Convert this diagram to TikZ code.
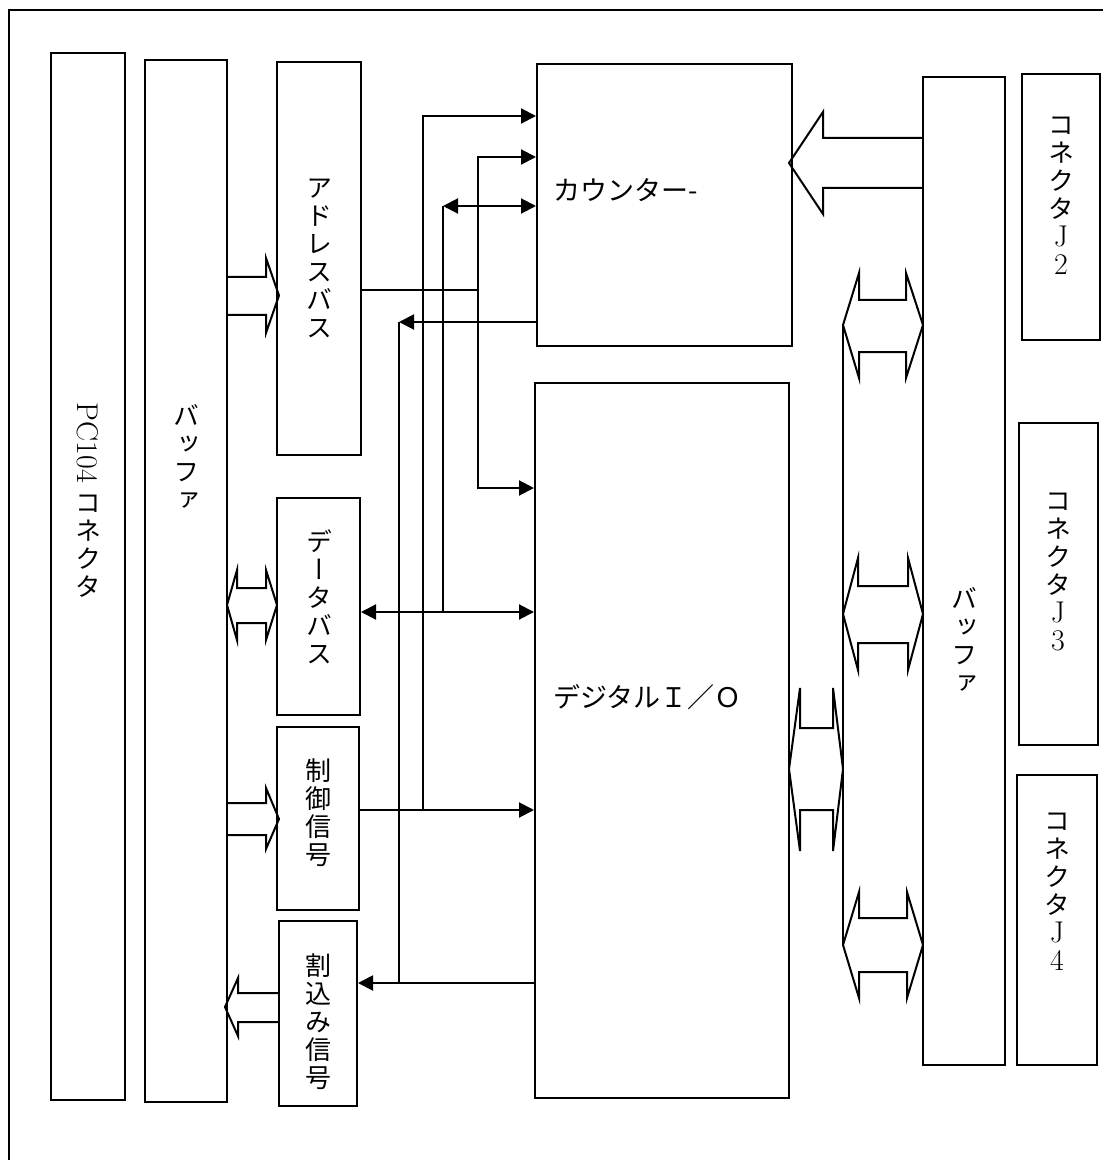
\documentclass[tikz,border=0pt]{standalone}
\usepackage{fontspec}
\usepackage{graphicx}
\usepackage{tikz}
\usetikzlibrary{arrows.meta,fit,calc}
\newfontfamily\jpfont{Noto Sans CJK JP}
\newfontfamily\jpvert[RawFeature=+vert]{Noto Sans CJK JP}
\newcommand{\lat}[1]{{\rmfamily\fontsize{15}{14}\selectfont #1}}

\tikzset{
  box/.style={draw, line width=1pt, inner sep=0pt},
  vtxt/.style={align=center, inner sep=0pt, font={\jpvert\fontsize{13}{14}\selectfont}},
  htxt/.style={anchor=west, inner sep=0pt, font={\jpfont\fontsize{13.5}{16}\selectfont}},
  sig/.style={line width=1pt},
  arr/.style={sig, -{Triangle[length=7.5pt,width=7.5pt]}},
  dbl/.style={sig, {Triangle[length=7.5pt,width=7.5pt]}-{Triangle[length=7.5pt,width=7.5pt]}},
  blk/.style={line width=1pt, line join=miter},
}

\begin{document}
\begin{tikzpicture}[x=0.5pt, y=-0.5pt]
    \useasboundingbox (0,0) rectangle (1103,1160);
    % outer frame
    \draw[sig] (1103,10) -- (9,10) -- (9,1160);

    % blocks
    \node[box, fit={(51,53) (125,1100)}] (pcb) {};
    \node[box, fit={(145,60) (227,1102)}] (buf1) {};
    \node[box, fit={(277,62) (361,455)}] (abus) {};
    \node[box, fit={(277,498) (360,715)}] (dbus) {};
    \node[box, fit={(277,727) (359,910)}] (ctrl) {};
    \node[box, fit={(279,921) (357,1106)}] (intr) {};
    \node[box, fit={(537,64) (792,346)}] (cnt) {};
    \node[box, fit={(535,383) (789,1098)}] (dio) {};
    \node[box, fit={(923,77) (1005,1065)}] (buf2) {};
    \node[box, fit={(1022,74) (1100,340)}] (jtwo) {};
    \node[box, fit={(1019,423) (1098,745)}] (jthree) {};
    \node[box, fit={(1017,775) (1097,1065)}] (jfour) {};

    % labels
    \node[vtxt] (pctxt) at (88,500) {{\rmfamily\fontsize{15}{15}\selectfont\rotatebox{-90}{PC104}}\\[5pt]コ\\ネ\\ク\\タ};
    \node[vtxt] (bufatxt) at (186,457) {バ\\ッ\\フ\\ァ};
    \node[vtxt] (abustxt) at (319,258) {ア\\ド\\レ\\ス\\バ\\ス};
    \node[vtxt] (dbustxt) at (319,597) {デ\\ー\\タ\\バ\\ス};
    \node[vtxt] (ctrltxt) at (318,813) {制\\御\\信\\号};
    \node[vtxt] (intrtxt) at (318,1022) {割\\込\\み\\信\\号};
    \node[htxt] (cnttxt) at (553,190) {カウンター-};
    \node[htxt] (diotxt) at (553,697) {デジタルＩ／Ｏ};
    \node[vtxt] (bufbtxt) at (964,640) {バ\\ッ\\フ\\ァ};
    \node[vtxt] (jtwotxt) at (1061,196) {コ\\ネ\\ク\\タ\\\lat{J}\\\lat{2}};
    \node[vtxt] (jthreetxt) at (1058,572) {コ\\ネ\\ク\\タ\\\lat{J}\\\lat{3}};
    \node[vtxt] (jfourtxt) at (1057,892) {コ\\ネ\\ク\\タ\\\lat{J}\\\lat{4}};

    % bus junctions
    \coordinate (ja) at (478,290);
    \coordinate (jd) at (443,612);
    \coordinate (jc) at (423,810);
    \coordinate (ji) at (399,983);

    % address bus
    \draw[sig] (abus.east |- ja) -- (ja);
    \draw[arr] (ja) |- (cnt.west |- 0,157);
    \draw[arr] (ja) |- (dio.west |- 0,488);
    % data bus
    \draw[dbl] (dbus.east |- jd) -- (dio.west |- jd);
    \draw[sig] (jd) -- (jd |- 0,206);
    \draw[dbl] (jd |- 0,206) -- (cnt.west |- 0,206);
    % control
    \draw[arr] (ctrl.east |- jc) -- (dio.west |- jc);
    \draw[arr] (jc) |- (cnt.west |- 0,116);
    % interrupt
    \draw[arr] (dio.west |- ji) -- (intr.east |- ji);
    \draw[arr] (cnt.west |- 0,322) -- (ji |- 0,322);
    \draw[sig] (ji |- 0,322) -- (ji);

    % block arrows, left side
    \draw[blk] (227,277) -- (266,277) -- (266,258) -- (279,295.5) -- (266,333) -- (266,315) -- (227,315);
    \draw[blk] (237,588) -- (266,588) -- (266,570) -- (277,605) -- (266,640) -- (266,623) -- (237,623) -- (237,640) -- (227,605) -- (237,570) -- cycle;
    \draw[blk] (227,803) -- (266,803) -- (266,788) -- (279,819) -- (266,849) -- (266,835) -- (227,835);
    \draw[blk] (279,993) -- (238,993) -- (238,978) -- (225,1007) -- (238,1036) -- (238,1022) -- (279,1022);

    % block arrows, right side
    \draw[blk] (923,138) -- (823,138) -- (823,112) -- (789,163) -- (823,214) -- (823,188) -- (923,188);
    \draw[sig] (843,325) -- (843,945);
    \draw[blk] (859,300) -- (906,300) -- (906,273) -- (923,325) -- (906,378) -- (906,352) -- (859,352) -- (859,378) -- (843,325) -- (859,273) -- cycle;
    \draw[blk] (858,586) -- (908,586) -- (908,558) -- (923,614) -- (908,670) -- (908,643) -- (858,643) -- (858,670) -- (843,614) -- (858,558) -- cycle;
    \draw[blk] (800,728) -- (833,728) -- (833,688) -- (843,769) -- (833,851) -- (833,810) -- (800,810) -- (800,851) -- (789,769) -- (800,688) -- cycle;
    \draw[blk] (859,918) -- (907,918) -- (907,892) -- (923,945) -- (907,998) -- (907,972) -- (859,972) -- (859,998) -- (843,945) -- (859,892) -- cycle;
\end{tikzpicture}
\end{document}
